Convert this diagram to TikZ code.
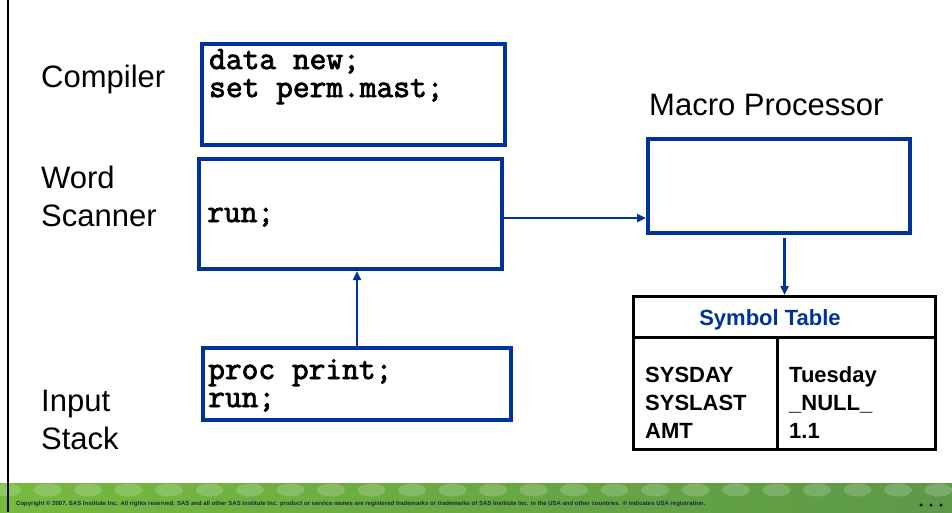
\documentclass[tikz,border=0pt]{standalone}
\usepackage{fontspec}
\setmainfont{Liberation Sans}
\newfontfamily\codefont[FakeBold=2.5]{Latin Modern Mono}
\usetikzlibrary{arrows.meta,positioning}
\definecolor{sasblue}{RGB}{0,51,153}
\definecolor{bandleft}{RGB}{118,186,62}
\definecolor{bandmid}{RGB}{146,200,86}
\definecolor{bandright}{RGB}{92,152,72}
\definecolor{notegray}{RGB}{25,40,70}
\tikzset{
    box/.style={draw=sasblue, line width=4pt, inner sep=0pt},
    flow/.style={draw=sasblue, line width=2.5pt, -{Triangle[length=9pt,width=8pt]}},
    label/.style={font=\fontsize{31}{37.5}\selectfont, anchor=base west, align=left, inner sep=0pt},
    code/.style={font=\fontsize{32.5}{28}\selectfont\codefont, anchor=base west, align=left, inner sep=0pt},
    tabtext/.style={font=\fontsize{22}{28}\selectfont\bfseries, anchor=base west, align=left, inner sep=0pt}
}

\begin{document}
\begin{tikzpicture}[x=1pt,y=-1pt]
    \useasboundingbox (0,0) rectangle (952,512);
    \draw[line width=2pt] (8,0) -- (8,512);

    % labels (base = last line)
    \node[label] (lcomp) at (41,87) {Compiler};
    \node[label] (lscan) at (41,226) {Word\\Scanner};
    \node[label] (lstack) at (41,449) {Input\\Stack};
    \node[label] (lmacro) at (649,115) {Macro Processor};

    \node[box, minimum width=303pt, minimum height=101pt] (compiler) at (353.5,94.5) {};
    \node[box, minimum width=303pt, minimum height=110pt] (scanner) at (350.5,214) {};
    \node[box, minimum width=308pt, minimum height=72pt] (stack) at (357,384) {};
    \node[box, minimum width=262pt, minimum height=94pt] (macro) at (779,186) {};

    \node[code] (ccomp) at (209,97) {data new;\\set perm.mast;};
    \node[code] (cscan) at (207,222) {run;};
    \node[code] (cstack) at (208,407) {proc print;\\run;};

    % symbol table
    \node[draw, line width=3pt, minimum width=302pt, minimum height=153pt] (symtab) at (784.5,373) {};
    \draw[line width=3pt] (symtab.west |- 0,337) -- (symtab.east |- 0,337);
    \draw[line width=3pt] (777,337) -- (symtab.south -| 777,0);
    \node[font=\fontsize{22}{26}\selectfont\bfseries, text=sasblue, anchor=base, inner sep=0pt] (symtitle) at (770,325) {Symbol Table};
    \node[tabtext] (names) at (645,438) {SYSDAY\\SYSLAST\\AMT};
    \node[tabtext] (values) at (789,438) {Tuesday\\\_NULL\_\\1.1};

    \draw[flow] (scanner.east |- 0,218) -- (macro.west |- 0,218);
    \draw[flow] (stack.north) -- (scanner.south -| stack.north);
    \draw[flow, shorten <=3pt] (macro.south -| symtab.north) -- (symtab.north);

    % footer band
    \shade[left color=bandleft, middle color=bandmid, right color=bandright] (0,483) rectangle (952,512);
    \foreach \i in {0,...,23}
        \fill[white, opacity=0.18] (7+40.5*\i,490) ellipse [x radius=14pt, y radius=6.5pt];
    \draw[line width=2pt] (8,483) -- (8,512);
    \node[anchor=base west, font=\fontsize{6}{7}\selectfont\bfseries, text=notegray, inner sep=0pt] (copyright) at (16,505) {Copyright © 2007, SAS Institute Inc. All rights reserved. SAS and all other SAS Institute Inc. product or service names are registered trademarks or trademarks of SAS Institute Inc. in the USA and other countries. ® indicates USA registration.};
    \foreach \x in {921,931,941}
        \fill (\x,505) circle (1.7pt);
\end{tikzpicture}
\end{document}
